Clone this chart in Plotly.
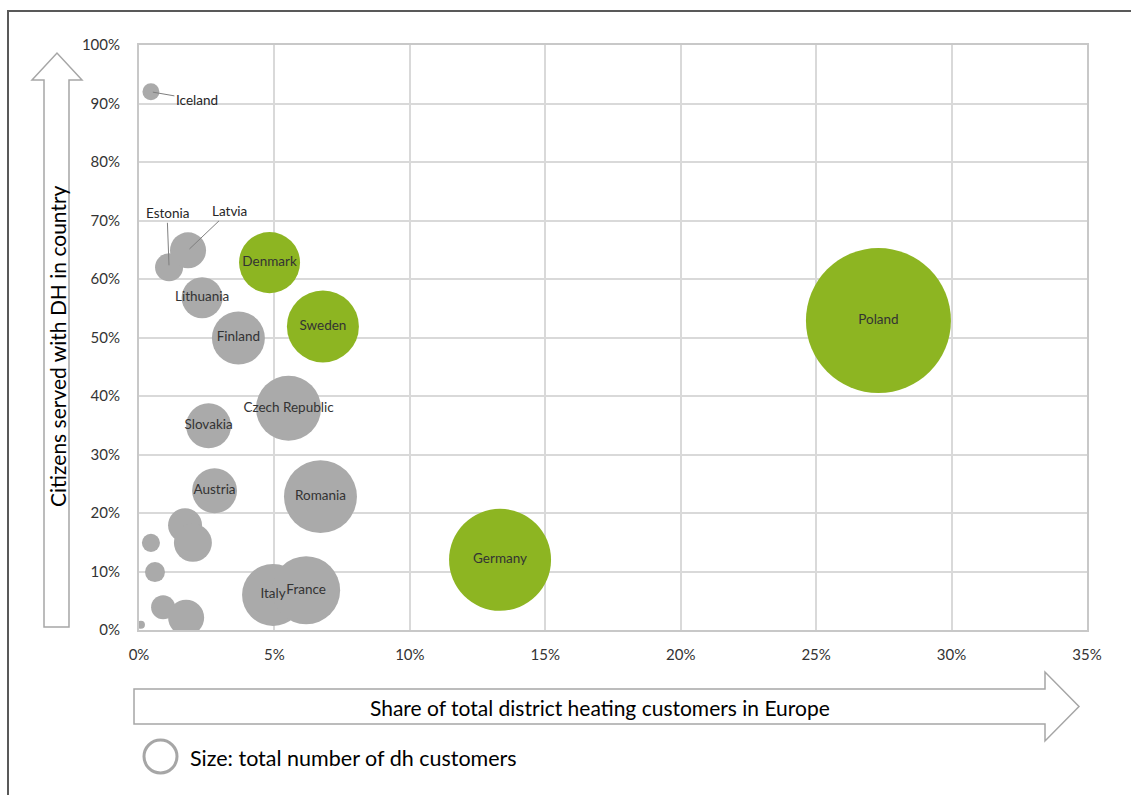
import plotly.graph_objects as go

# ---- data ----
countries = ["Iceland", "Estonia", "Latvia", "Denmark", "Lithuania", "Finland", "Sweden",
             "Czech Republic", "Slovakia", "Austria", "Romania",
             "", "", "", "", "", "", "",
             "Italy", "France", "Germany", "Poland"]
share_customers_pct = [0.44, 1.11, 1.81, 4.82, 2.33, 3.67, 6.79,
                       5.52, 2.57, 2.79, 6.70,
                       1.70, 1.99, 0.44, 0.59, 0.89, 1.74, 0.07,
                       4.95, 6.17, 13.33, 27.30]
citizens_served_pct = [92.0, 62.0, 64.9, 62.8, 56.8, 49.9, 51.9,
                       37.9, 34.9, 23.8, 22.8,
                       17.9, 14.9, 14.9, 9.9, 3.9, 2.1, 0.9,
                       6.0, 6.8, 12.0, 52.9]
dh_customers_k = [220, 600, 990, 2840, 1280, 2140, 3950,
                  3220, 1540, 1540, 4060,
                  880, 1100, 250, 305, 440, 990, 50,
                  2930, 3530, 7930, 16030]
highlight = ["Denmark", "Sweden", "Germany", "Poland"]
inside_label = ["Denmark", "Lithuania", "Finland", "Sweden", "Czech Republic", "Slovakia",
                "Austria", "Romania", "Italy", "France", "Germany", "Poland"]
x_ticks = [0, 5, 10, 15, 20, 25, 30, 35]
y_ticks = [0, 10, 20, 30, 40, 50, 60, 70, 80, 90, 100]

GREY = "#AAAAAA"
GREEN = "#8DB522"
FONT = "Lato, 'Open Sans', sans-serif"

W, H = 1131, 795
L, R, T, B = 139, 1087, 45, 630


def px(x):
    return (x - L) / (R - L)


def py(y):
    return (B - y) / (B - T)


colors = [GREEN if c in highlight else GREY for c in countries]
texts = [c if c in inside_label else "" for c in countries]

fig = go.Figure()
fig.add_trace(go.Scatter(
    x=share_customers_pct, y=citizens_served_pct,
    mode="markers+text",
    text=texts, textposition="middle center",
    textfont=dict(family=FONT, size=13.5, color="#333333"),
    marker=dict(size=dh_customers_k, sizemode="area",
                sizeref=2 * max(dh_customers_k) / (145 ** 2),
                color=colors, opacity=1, line=dict(width=0)),
    hoverinfo="skip", showlegend=False,
))

annotations = []
# labels with leader lines
for name, ax, ay in [("Iceland", 46, 8), ("Estonia", -2, -54), ("Latvia", 41, -39)]:
    i = countries.index(name)
    annotations.append(dict(
        x=share_customers_pct[i], y=citizens_served_pct[i], xref="x", yref="y",
        text=name, showarrow=True, ax=ax, ay=ay, arrowhead=0, arrowwidth=1,
        arrowcolor="#7F7F7F", standoff=2,
        font=dict(family=FONT, size=13.5, color="#262626"),
    ))

# axis titles
annotations.append(dict(
    x=px(58), y=py(346), xref="paper", yref="paper", text="Citizens served with DH in country",
    textangle=-90, showarrow=False, font=dict(family=FONT, size=21, color="#000000"),
    xanchor="center", yanchor="middle"))
annotations.append(dict(
    x=px(600), y=py(707), xref="paper", yref="paper",
    text="Share of total district heating customers in Europe",
    showarrow=False, font=dict(family=FONT, size=21, color="#000000"),
    xanchor="center", yanchor="middle"))
annotations.append(dict(
    x=px(188), y=py(758), xref="paper", yref="paper",
    text="Size: total number of dh customers",
    showarrow=False, font=dict(family=FONT, size=21.5, color="#000000"),
    xanchor="left", yanchor="middle"))


def path(points):
    return "M " + " L ".join(f"{px(a):.5f},{py(b):.5f}" for a, b in points) + " Z"


shapes = [
    # outer frame
    dict(type="rect", xref="paper", yref="paper",
         x0=px(8), y0=py(11), x1=px(1145), y1=py(810),
         line=dict(color="#595959", width=2), fillcolor="rgba(0,0,0,0)", layer="below"),
    # vertical arrow
    dict(type="path", xref="paper", yref="paper",
         path=path([(44, 627), (69, 627), (69, 80), (82, 80), (57, 53), (32, 80), (44, 80)]),
         line=dict(color="#A6A6A6", width=1.5), fillcolor="rgba(255,255,255,0)"),
    # horizontal arrow
    dict(type="path", xref="paper", yref="paper",
         path=path([(134, 689), (1045, 689), (1045, 672), (1079, 706.5), (1045, 741),
                    (1045, 724), (134, 724)]),
         line=dict(color="#A6A6A6", width=1.5), fillcolor="rgba(255,255,255,0)"),
    # size legend circle
    dict(type="circle", xref="paper", yref="paper",
         x0=px(144), x1=px(177), y0=py(773), y1=py(740),
         line=dict(color="#A6A6A6", width=3), fillcolor="rgba(255,255,255,0)"),
]

fig.update_layout(
    width=W, height=H,
    margin=dict(l=L, r=W - R, t=T, b=H - B),
    paper_bgcolor="white", plot_bgcolor="white",
    font=dict(family=FONT),
    annotations=annotations, shapes=shapes,
    xaxis=dict(range=[0, 35], tickvals=x_ticks, ticktext=[f"{v}%" for v in x_ticks],
               showgrid=True, gridcolor="#D9D9D9", gridwidth=2,
               showline=True, linecolor="#C8C8C8", linewidth=2, mirror=True,
               zeroline=False, ticks="", ticklabelstandoff=10,
               tickfont=dict(family=FONT, size=15, color="#333333"), fixedrange=True),
    yaxis=dict(range=[0, 100], tickvals=y_ticks, ticktext=[f"{v}%" for v in y_ticks],
               showgrid=True, gridcolor="#D9D9D9", gridwidth=2,
               showline=True, linecolor="#C8C8C8", linewidth=2, mirror=True,
               zeroline=False, ticks="", ticklabelstandoff=14,
               tickfont=dict(family=FONT, size=15, color="#333333"), fixedrange=True),
)

fig.write_html("out.html")
